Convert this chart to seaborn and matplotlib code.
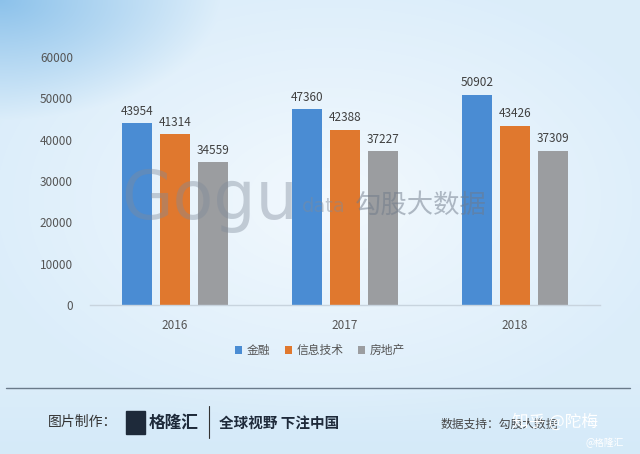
import numpy as np
import pandas as pd
import matplotlib
matplotlib.use("Agg")
import matplotlib.pyplot as plt
import seaborn as sns
from matplotlib.patches import Rectangle

years = ["2016", "2017", "2018"]
series = ["金融", "信息技术", "房地产"]
finance = [43954, 47360, 50902]
it_tech = [41314, 42388, 43426]
realestate = [34559, 37227, 37309]
yticks = [0, 10000, 20000, 30000, 40000, 50000, 60000]
colors = ["#4A8CD3", "#E0782E", "#9B9DA0"]

df = pd.DataFrame({
    "year": years * 3,
    "sector": [s for s in series for _ in years],
    "value": finance + it_tech + realestate,
})

sns.set_theme(style="white")
plt.rcParams["font.family"] = ["Noto Sans CJK SC", "DejaVu Sans"]

fig = plt.figure(figsize=(6.4, 4.54), dpi=100)

# background gradient
bg = fig.add_axes([0, 0, 1, 1], zorder=-10)
H, W = 454, 640
yy, xx = np.mgrid[0:H, 0:W]
base = np.array([0.86, 0.93, 0.98])
center = np.array([0.95, 0.975, 0.995])
d = np.sqrt(((xx - 330) / 360.0) ** 2 + ((yy - 200) / 230.0) ** 2)
t = np.clip(d, 0, 1)[..., None]
img = center * (1 - t) + base * t
tl = np.clip(1 - np.sqrt((xx / 220.0) ** 2 + (yy / 120.0) ** 2), 0, 1)[..., None]
dark = np.array([0.55, 0.76, 0.92])
img = img * (1 - tl) + dark * tl
ft = np.clip((yy - 380) / 70.0, 0, 1)[..., None]
img = img * (1 - 0.4 * ft) + np.array([0.80, 0.90, 0.97]) * 0.4 * ft
bg.imshow(img, aspect="auto", extent=[0, 1, 0, 1], origin="upper")
bg.set_xlim(0, 1)
bg.set_ylim(0, 1)
bg.axis("off")

ax = fig.add_axes([0.14, 0.328, 0.7975, 0.5465])
ax.patch.set_alpha(0)
sns.barplot(data=df, x="year", y="value", hue="sector", palette=colors,
            width=0.67, gap=0.21, ax=ax, saturation=1, legend=True,
            linewidth=0, edgecolor="none")
ax.set_ylim(0, 60000)
ax.set_xlim(-0.5, 2.5)
ax.set_yticks(yticks)
ax.set_yticklabels([str(v) for v in yticks], fontsize=8.5, color="#555555")
ax.tick_params(axis="x", labelsize=8.5, colors="#555555", length=0, pad=10)
ax.tick_params(axis="y", length=0, pad=12)
ax.set_xlabel("")
ax.set_ylabel("")
for s in ["top", "right", "left"]:
    ax.spines[s].set_visible(False)
ax.spines["bottom"].set_color("#C8D4DE")
ax.spines["bottom"].set_linewidth(1)
for c in ax.containers:
    ax.bar_label(c, fmt="%d", padding=4, fontsize=8.5, color="#404040")

h, l = ax.get_legend_handles_labels()
ax.get_legend().remove()
fig.legend(h, l, loc="center", bbox_to_anchor=(0.5, 0.228), ncol=3, frameon=False,
           fontsize=8.5, handlelength=0.6, handleheight=0.6, handletextpad=0.4,
           columnspacing=1.2, labelcolor="#555555")

# watermark
fig.text(0.19, 0.56, "Gogu", fontsize=48, color="#7F8A9A", alpha=0.4,
         ha="left", va="center", family="DejaVu Sans")
fig.text(0.472, 0.545, "data", fontsize=14, color="#7F8A9A", alpha=0.45,
         ha="left", va="center", family="DejaVu Sans")
fig.text(0.555, 0.548, "勾股大数据", fontsize=19, color="#6F7A8A", alpha=0.5,
         ha="left", va="center")

# footer
fig.add_artist(plt.Line2D([0.01, 0.985], [0.146, 0.146], color="#6A7A8A", lw=1))
fig.text(0.075, 0.07, "图片制作：", fontsize=10, color="#333333", va="center")
fig.add_artist(Rectangle((0.197, 0.045), 0.03, 0.05, color="#1E2A3A", transform=fig.transFigure))
fig.text(0.232, 0.07, "格隆汇", fontsize=12, color="#1E2A3A", va="center", weight="bold")
fig.add_artist(plt.Line2D([0.327, 0.327], [0.035, 0.105], color="#333333", lw=0.8))
fig.text(0.342, 0.07, "全球视野 下注中国", fontsize=10.5, color="#1E2A3A", va="center", weight="bold")
fig.text(0.688, 0.065, "数据支持：勾股大数据", fontsize=8.5, color="#444444", va="center")
fig.text(0.80, 0.07, "知乎 @陀梅", fontsize=12, color="white", va="center")
fig.text(0.915, 0.025, "@格隆汇", fontsize=7, color="white", va="center")

fig.savefig("out.png", dpi=100)
